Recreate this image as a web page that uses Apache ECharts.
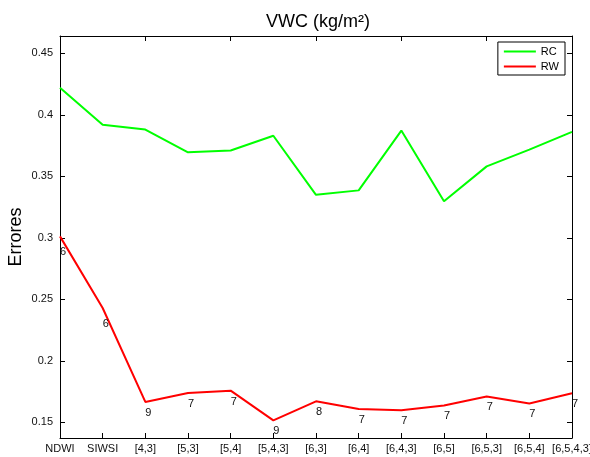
<!DOCTYPE html>
<html>
<head>
<meta charset="utf-8">
<script src="https://cdn.jsdelivr.net/npm/echarts@6/dist/echarts.min.js"></script>
<style>
  html, body { margin: 0; padding: 0; background: #fff; }
  #chart { width: 590px; height: 457px; }
</style>
</head>
<body>
<div id="chart"></div>
<script>
// Band combinations evaluated
const categories = ['NDWI', 'SIWSI', '[4,3]', '[5,3]', '[5,4]', '[5,4,3]', '[6,3]', '[6,4]', '[6,4,3]', '[6,5]', '[6,5,3]', '[6,5,4]', '[6,5,4,3]'];
// Error per combination
const rcValues = [0.422, 0.392, 0.388, 0.3695, 0.371, 0.383, 0.335, 0.3386, 0.3872, 0.3297, 0.3581, 0.3717, 0.3861];
const rwValues = [0.3012, 0.243, 0.1666, 0.1739, 0.1758, 0.1516, 0.1671, 0.1609, 0.1598, 0.1638, 0.1711, 0.1654, 0.1736];
// Number annotated next to each RW point
const rwCounts = [6, 6, 9, 7, 7, 9, 8, 7, 7, 7, 7, 7, 7];
// Y axis range and tick values
const yMin = 0.1373;
const yMax = 0.4641;
const yTicks = [0.15, 0.2, 0.25, 0.3, 0.35, 0.4, 0.45];

const font = 'Liberation Sans, Arial, Helvetica, sans-serif';
const chart = echarts.init(document.getElementById('chart'), null, { renderer: 'canvas' });

const axisLine = { show: true, lineStyle: { color: '#000', width: 1 } };

const rwData = rwValues.map((v, i) => ({
  value: v,
  label: {
    show: true,
    formatter: String(rwCounts[i]),
    position: 'inside',
    align: 'left',
    verticalAlign: 'middle',
    offset: [0, i < 2 ? 16 : 11],
    fontFamily: font,
    fontSize: 11,
    color: '#111'
  }
}));

chart.setOption({
  animation: false,
  backgroundColor: '#fff',
  title: {
    text: 'VWC (kg/m²)',
    left: 313,
    textAlign: 'center',
    top: 8,
    textStyle: { fontFamily: font, fontSize: 18, fontWeight: 'normal', color: '#000' }
  },
  legend: {
    right: 25,
    top: 42,
    orient: 'vertical',
    itemWidth: 32,
    itemHeight: 2,
    itemGap: 4,
    padding: [4, 6, 3, 6],
    borderColor: '#000',
    borderWidth: 1,
    backgroundColor: '#fff',
    icon: 'rect',
    textStyle: { fontFamily: font, fontSize: 11, color: '#000' },
    data: ['RC', 'RW']
  },
  grid: { left: 60, right: 18, top: 36, bottom: 19, outerBoundsMode: 'none' },
  xAxis: [
    {
      type: 'category',
      data: categories,
      boundaryGap: false,
      axisLine: axisLine,
      axisTick: { show: true, inside: true, length: 5, lineStyle: { color: '#000' } },
      axisLabel: { fontFamily: font, fontSize: 11, color: '#111', margin: 5, interval: 0 },
      splitLine: { show: false }
    },
    {
      type: 'category',
      data: categories,
      boundaryGap: false,
      position: 'top',
      axisLine: axisLine,
      axisTick: { show: true, inside: true, length: 5, lineStyle: { color: '#000' } },
      axisLabel: { show: false },
      splitLine: { show: false }
    }
  ],
  yAxis: [
    {
      type: 'value',
      min: yMin,
      max: yMax,
      name: 'Errores',
      nameLocation: 'middle',
      nameGap: 35,
      nameMoveOverlap: false,
      nameTextStyle: { fontFamily: font, fontSize: 18, color: '#000' },
      axisLine: axisLine,
      axisTick: { show: true, inside: true, length: 5, customValues: yTicks, lineStyle: { color: '#000' } },
      axisLabel: { fontFamily: font, fontSize: 11, color: '#111', margin: 7, customValues: yTicks },
      splitLine: { show: false }
    },
    {
      type: 'value',
      min: yMin,
      max: yMax,
      position: 'right',
      axisLine: axisLine,
      axisTick: { show: true, inside: true, length: 5, customValues: yTicks, lineStyle: { color: '#000' } },
      axisLabel: { show: false },
      splitLine: { show: false }
    }
  ],
  series: [
    {
      name: 'RC',
      type: 'line',
      data: rcValues,
      symbol: 'none',
      itemStyle: { color: '#00ff00' },
      lineStyle: { color: '#00ff00', width: 2 }
    },
    {
      name: 'RW',
      type: 'line',
      data: rwData,
      symbol: 'circle',
      symbolSize: 0,
      showSymbol: true,
      itemStyle: { color: '#ff0000' },
      lineStyle: { color: '#ff0000', width: 2 }
    }
  ]
});
</script>
</body>
</html>
